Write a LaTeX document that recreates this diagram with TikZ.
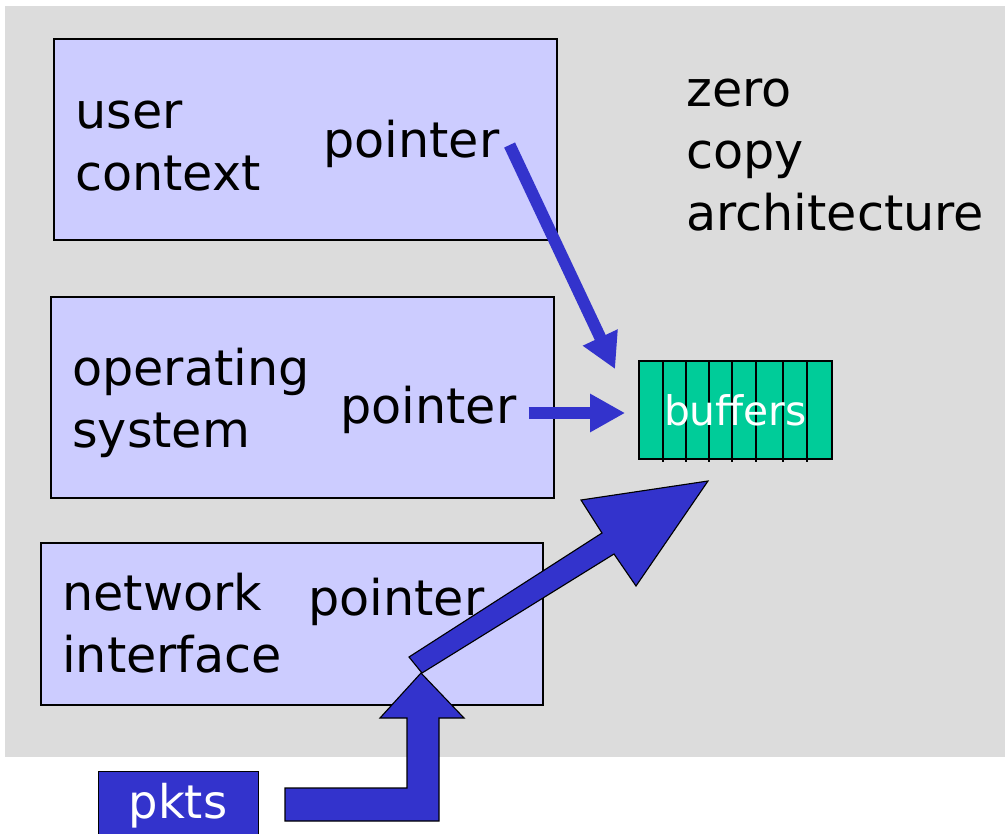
\documentclass[tikz,border=0pt]{standalone}
\usepackage{fontspec}
\setmainfont{DejaVu Sans}
\usetikzlibrary{arrows.meta,calc}

\definecolor{slide}{HTML}{DCDCDC}
\definecolor{layerfill}{HTML}{CCCCFF}
\definecolor{ptrblue}{HTML}{3333CC}
\definecolor{bufgreen}{HTML}{00CC99}

\begin{document}
\begin{tikzpicture}[x=0.025cm,y=-0.025cm]
\tikzstyle{layer}=[rectangle,draw=black,line width=1.2pt,fill=layerfill,inner sep=0pt]
\tikzstyle{words}=[anchor=base west,align=left,inner sep=0pt,font=\fontsize{35}{44}\selectfont]
\tikzstyle{ptr}=[draw=ptrblue,line width=0.3cm,-{Triangle[length=0.875cm,width=0.9cm]}]
\tikzstyle{bigarrow}=[draw=black,line width=0.8pt,fill=ptrblue]

\useasboundingbox (0,0) rectangle (1005,834);
\fill[slide] (5,6) rectangle (1005,757);

\node[layer,minimum width=12.575cm,minimum height=5.025cm] (user) at (305.5,139.5) {};
\node[layer,minimum width=12.575cm,minimum height=5.025cm] (os)   at (302.5,397.5) {};
\node[layer,minimum width=12.55cm,minimum height=4.05cm]   (nic)  at (292,624) {};

% multi-line texts sit on the baseline of their last line
\node[words] (userTxt) at (75,190)  {user\\context};
\node[words] (userPtr) at (323,157) {pointer};
\node[words] (osTxt)   at (72,447)  {operating\\system};
\node[words] (osPtr)   at (340,423) {pointer};
\node[words] (nicTxt)  at (62,672)  {network\\interface};
\node[words] (nicPtr)  at (308,615) {pointer};
\node[words] (title)   at (686,230) {zero\\copy\\architecture};

% the buffer slots
\node[rectangle,draw=black,line width=1.2pt,fill=bufgreen,minimum width=4.825cm,minimum height=2.45cm] (buf) at (735.5,410) {};
\foreach \x in {663,686,709,732,756,783,807}
  \draw[line width=1.2pt] (\x,361) -- (\x,462);
\node[text=white,font=\fontsize{29}{34}\selectfont] (bufTxt) at (buf) {buffers};

\node[rectangle,draw=black,fill=ptrblue,text=white,minimum width=4cm,minimum height=1.725cm,font=\fontsize{33}{40}\selectfont] (pkts) at (178,805.5) {pkts};

\draw[ptr] ($(userPtr.base east)+(10,-12)$) -- ($(buf.north west)+(-23,9)$);
\draw[ptr] ($(osPtr.base east)+(12,-10)$) -- ($(buf.west)+(-13,3)$);

% packets come in and go straight to the buffers
\draw[bigarrow] (409,657) -- (602,533) -- (581,500) -- (708,481) -- (636,586) -- (614,554) -- (422,673) -- cycle;
\draw[bigarrow] (285,788) -- (407,788) -- (407,718) -- (380,718) -- (421,673) -- (464,718) -- (439,718) -- (439,821) -- (285,821) -- cycle;

\end{tikzpicture}
\end{document}
